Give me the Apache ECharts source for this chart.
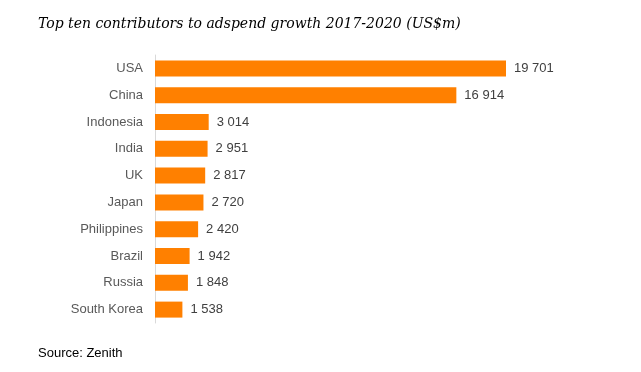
<!DOCTYPE html>
<html><head><meta charset="utf-8">
<script src="https://cdn.jsdelivr.net/npm/echarts@6/dist/echarts.min.js"></script>
<style>html,body{margin:0;padding:0;background:#fff}#c{width:641px;height:372px}</style>
</head><body><div id="c"></div>
<script>
const categories = ["USA","China","Indonesia","India","UK","Japan","Philippines","Brazil","Russia","South Korea"];
const values = [19701,16914,3014,2951,2817,2720,2420,1942,1848,1538];
const titleText = "Top ten contributors to adspend growth 2017-2020 (US$m)";
const sourceText = "Source: Zenith";

function fmt(v){ return String(v).replace(/\B(?=(\d{3})+(?!\d))/g, " "); }

const chart = echarts.init(document.getElementById('c'));
chart.setOption({
  animation:false,
  backgroundColor:'#fff',
  title:[
    {text:titleText,left:33,top:12,padding:5,textStyle:{fontFamily:'DejaVu Serif',fontStyle:'italic',fontWeight:'normal',fontSize:14,color:'#000'}},
    {text:sourceText,left:33,top:342,padding:5,textStyle:{fontFamily:'Liberation Sans',fontWeight:'normal',fontSize:13,color:'#000'}}
  ],
  grid:{left:155,top:55,width:351,height:268,containLabel:false},
  xAxis:{type:'value',min:0,max:function(v){return v.max;},show:false},
  yAxis:{type:'category',data:categories,inverse:true,
    axisLine:{show:true,lineStyle:{color:'#d9d9d9',width:1}},
    axisTick:{show:false},
    axisLabel:{margin:12,fontFamily:'Liberation Sans',fontSize:13,color:'#595959'}},
  series:[{type:'bar',data:values,barWidth:16,itemStyle:{color:'#FF8000'},
    label:{show:true,position:'right',distance:8,fontFamily:'Liberation Sans',fontSize:13,color:'#404040',formatter:p=>fmt(p.value)}}]
});
</script></body></html>
